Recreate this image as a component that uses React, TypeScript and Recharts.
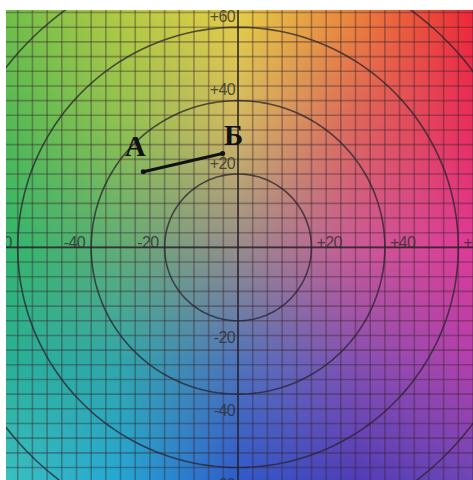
import React from 'react';
import { ComposedChart, XAxis, YAxis, Line, Scatter, ReferenceArea, ReferenceLine } from 'recharts';

// Data
const yTickValues = [60, 40, 20, -20, -40, -60];
const yTickLabels = ['+60', '+40', '+20', '-20', '-40', '-60'];
const xTickValues = [-60, -40, -20, 20, 40, 60];
const xTickLabels = ['-60', '-40', '-20', '+20', '+40', '+60'];
const circleRadii = [20, 40, 60, 80];
const pointA = { a: -25.8, b: 20.6, text: 'А' };
const pointB = { a: -4.2, b: 25.6, text: 'Б' };
const segment = [pointA, pointB];
const gridStep = 4;

// Styling: colour anchors of the a*b* background (rows b = 64..-64, cols a = -64..64)
const anchorRows: number[][][] = [
  [[110, 190, 75], [178, 202, 68], [228, 205, 72], [234, 130, 60], [236, 40, 55]],
  [[80, 185, 85], [140, 192, 82], [208, 182, 100], [220, 100, 95], [232, 45, 95]],
  [[48, 182, 108], [98, 172, 118], [150, 140, 140], [202, 90, 150], [222, 58, 152]],
  [[42, 176, 150], [48, 166, 172], [78, 115, 188], [130, 80, 178], [176, 64, 172]],
  [[60, 192, 192], [38, 166, 212], [48, 90, 202], [80, 60, 182], [110, 70, 182]],
];
const anchorB = [64, 32, 0, -32, -64];

const X_DOMAIN: [number, number] = [-63.2, 64];
const Y_DOMAIN: [number, number] = [-63.4, 64.7];

function rowColors(b: number): string[] {
  let i = 0;
  while (i < anchorB.length - 2 && b < anchorB[i + 1]) i++;
  const t = Math.min(1, Math.max(0, (anchorB[i] - b) / (anchorB[i] - anchorB[i + 1])));
  return anchorRows[i].map((c, k) => {
    const d = anchorRows[i + 1][k];
    const r = Math.round(c[0] + (d[0] - c[0]) * t);
    const g = Math.round(c[1] + (d[1] - c[1]) * t);
    const bl = Math.round(c[2] + (d[2] - c[2]) * t);
    return `rgb(${r},${g},${bl})`;
  });
}

const stripStarts: number[] = [];
for (let b = -65; b <= 65; b += 1) stripStarts.push(b);

const gridValues: number[] = [];
for (let v = -64; v <= 64; v += gridStep) gridValues.push(v);

const circles = circleRadii.map((r) => {
  const pts: { a: number; b: number }[] = [];
  for (let deg = 0; deg <= 360; deg += 2) {
    const th = (deg * Math.PI) / 180;
    pts.push({ a: r * Math.cos(th), b: r * Math.sin(th) });
  }
  return pts;
});

const yTickData = yTickValues.map((v, i) => ({ a: 0, b: v, text: yTickLabels[i] }));
const xTickData = xTickValues.map((v, i) => ({ a: v, b: 0, text: xTickLabels[i] }));

const tickFont = {
  fontFamily: '"Liberation Sans", Arial, sans-serif',
  fontSize: 16,
  fill: 'rgba(45,45,45,0.8)',
  letterSpacing: -0.6,
};

const YTickShape = (p: any) => (
  <text x={p.cx - 3} y={p.cy + (p.payload.b > 0 ? -5.5 : 22)} textAnchor="end" {...tickFont}>
    {p.payload.text}
  </text>
);
const XTickShape = (p: any) => (
  <text
    x={p.cx + (p.payload.a > 0 ? 5 : -6)}
    y={p.cy + 1}
    textAnchor={p.payload.a > 0 ? 'start' : 'end'}
    {...tickFont}
  >
    {p.payload.text}
  </text>
);
const LetterShape = (p: any) => {
  const isA = p.payload.text === 'А';
  return (
    <text
      x={p.cx + (isA ? -8 : 11)}
      y={p.cy + (isA ? -16 : -8)}
      textAnchor="middle"
      fontFamily='"Liberation Serif", "Times New Roman", serif'
      fontWeight="bold"
      fontSize={29}
      fill="#111"
    >
      {p.payload.text}
    </text>
  );
};

export default function App() {
  return (
    <div style={{ position: 'absolute', left: 0, top: 0, width: 473, height: 480, background: '#fff' }}>
      <div style={{ position: 'absolute', left: 6, top: 10, width: 467, height: 470, overflow: 'hidden' }}>
        <div style={{ position: 'absolute', left: -6, top: -10 }}>
          <ComposedChart width={473} height={480} margin={{ top: 10, right: 0, bottom: 0, left: 6 }}>
            <defs>
              {stripStarts.map((b, i) => {
                const cols = rowColors(b + 0.5);
                return (
                  <linearGradient key={i} id={`strip${i}`} x1="0" y1="0" x2="1" y2="0">
                    {cols.map((c, k) => (
                      <stop key={k} offset={k / (cols.length - 1)} stopColor={c} />
                    ))}
                  </linearGradient>
                );
              })}
            </defs>
            <XAxis hide type="number" dataKey="a" domain={X_DOMAIN} allowDataOverflow />
            <YAxis hide type="number" dataKey="b" domain={Y_DOMAIN} allowDataOverflow />
            {stripStarts.map((b, i) => (
              <ReferenceArea
                key={`s${i}`}
                x1={-64}
                x2={64}
                y1={b}
                y2={b + 1.4}
                fill={`url(#strip${i})`}
                fillOpacity={1}
                stroke="none"
                ifOverflow="hidden"
              />
            ))}
            {gridValues.map((v) => (
              <ReferenceLine key={`gx${v}`} x={v} stroke="rgba(55,35,45,0.38)" strokeWidth={1.6} />
            ))}
            {gridValues.map((v) => (
              <ReferenceLine key={`gy${v}`} y={v} stroke="rgba(55,35,45,0.38)" strokeWidth={1.6} />
            ))}
            <ReferenceLine x={0} stroke="rgba(35,30,35,0.72)" strokeWidth={1.8} />
            <ReferenceLine y={0} stroke="rgba(35,30,35,0.72)" strokeWidth={1.8} />
            {circles.map((pts, i) => (
              <Line
                key={`c${i}`}
                data={pts}
                dataKey="b"
                type="linear"
                stroke="rgba(40,35,45,0.75)"
                strokeWidth={1.6}
                dot={false}
                activeDot={false}
                isAnimationActive={false}
              />
            ))}
            <Scatter data={yTickData} dataKey="b" shape={YTickShape} isAnimationActive={false} />
            <Scatter data={xTickData} dataKey="b" shape={XTickShape} isAnimationActive={false} />
            <Line
              data={segment}
              dataKey="b"
              type="linear"
              stroke="#111"
              strokeWidth={3}
              dot={{ r: 2.5, fill: '#111', stroke: '#111', strokeWidth: 0 }}
              activeDot={false}
              isAnimationActive={false}
            />
            <Scatter data={segment} dataKey="b" shape={LetterShape} isAnimationActive={false} />
          </ComposedChart>
        </div>
      </div>
    </div>
  );
}
